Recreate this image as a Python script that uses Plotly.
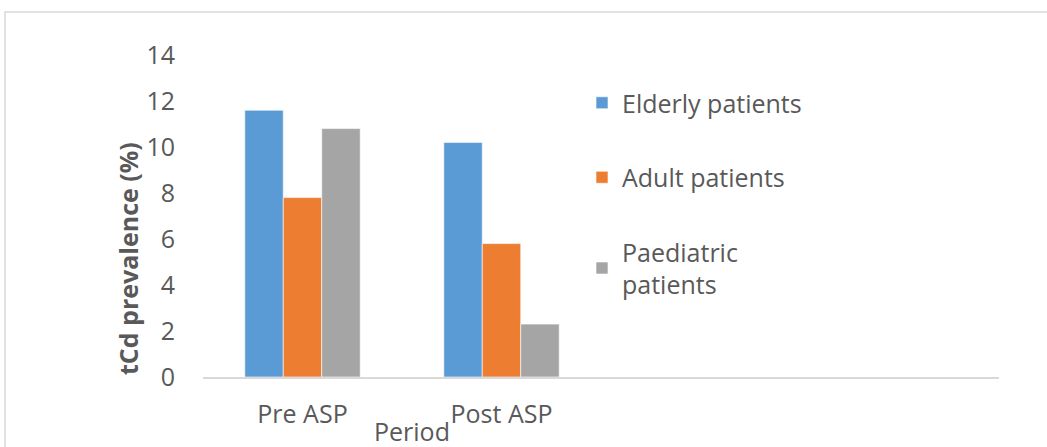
import plotly.graph_objects as go

categories = ["Pre ASP", "Post ASP", " ", "  "]
series_names = ["Elderly patients", "Adult patients", "Paediatric<br>patients"]
elderly = [11.6, 10.2, None, None]
adult = [7.8, 5.8, None, None]
paediatric = [10.8, 2.3, None, None]
colors = ["#5B9BD5", "#ED7D31", "#A5A5A5"]
y_ticks = [0, 2, 4, 6, 8, 10, 12, 14]

FONT = "Open Sans"
TXT = "#595959"
FS = 25

fig = go.Figure()
for i, (name, vals) in enumerate(zip(series_names, [elderly, adult, paediatric])):
    fig.add_trace(go.Bar(
        x=categories, y=vals, name=name, legendgroup=str(i),
        marker=dict(color=colors[i], line=dict(color="rgba(255,255,255,0.6)", width=1)),
    ))

L, R, T, B = 203, 48, 55, 70
W, H = 1047, 447
pw = W - L - R
ph = H - T - B

def px(x):
    return (x - L) / pw

def py(y):
    return (H - B - y) / ph

fig.update_layout(
    width=W, height=H,
    margin=dict(l=L, r=R, t=T, b=B),
    paper_bgcolor="white", plot_bgcolor="white",
    barmode="group", bargap=0.42, bargroupgap=0,
    font=dict(family=FONT, size=FS, color=TXT),
    showlegend=True,
    legend=dict(x=px(582), y=py(80), xanchor="left", yanchor="top",
                font=dict(family=FONT, size=FS, color=TXT),
                tracegroupgap=39, itemwidth=30, bgcolor="rgba(0,0,0,0)"),
    xaxis=dict(type="category", categoryorder="array", categoryarray=categories,
               range=[-0.5, 3.5], showline=True, linecolor="#D9D9D9", linewidth=2,
               showgrid=False, ticks="", tickfont=dict(size=FS, color=TXT, family=FONT),
               ticklabelstandoff=14, zeroline=False),
    yaxis=dict(range=[0, 14], tickvals=y_ticks, showgrid=False, zeroline=False,
               showline=False, ticks="", ticklabelstandoff=27,
               tickfont=dict(size=FS, color=TXT, family=FONT)),
)

fig.add_annotation(text="<b>tCd prevalence (%)</b>", textangle=-90,
                   x=px(128), y=py(259), xref="paper", yref="paper",
                   xanchor="center", yanchor="middle",
                   showarrow=False, font=dict(family=FONT, size=FS, color=TXT))
fig.add_annotation(text="Period", x=px(412), y=py(431), xref="paper", yref="paper",
                   xanchor="center", yanchor="middle",
                   showarrow=False, font=dict(family=FONT, size=FS, color=TXT))

fig.add_shape(type="rect", xref="paper", yref="paper",
              x0=px(5), y0=py(460), x1=px(1060), y1=py(12),
              line=dict(color="#D9D9D9", width=1.5), fillcolor="rgba(0,0,0,0)", layer="below")

fig.write_html("out.html", config={"displayModeBar": False},
               post_script="document.body.style.margin='0';document.documentElement.style.overflow='hidden';")
